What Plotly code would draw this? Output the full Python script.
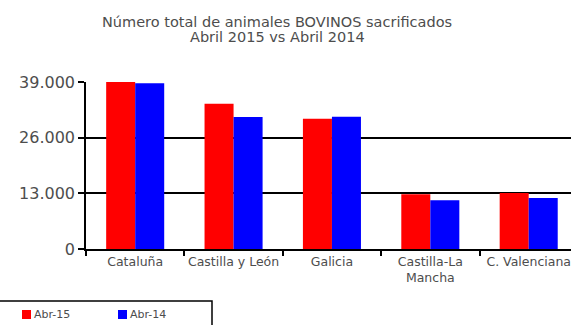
import plotly.graph_objects as go

# Comunidades autónomas y animales bovinos sacrificados
comunidades = ["Cataluña", "Castilla y León", "Galicia", "Castilla-La<br>Mancha", "C. Valenciana"]
abr_15 = [39300, 33900, 30400, 12800, 13100]
abr_14 = [38700, 30800, 30900, 11400, 11900]
series_names = ["Abr-15", "Abr-14"]
series_colors = ["#FF0000", "#0000FF"]
y_ticks = [0, 13000, 26000, 39000]
y_tick_text = ["0", "13.000", "26.000", "39.000"]
title_lines = ["Número total de animales BOVINOS sacrificados", "Abril 2015 vs Abril 2014"]

text_color = "#4d4d4d"
font_family = "DejaVu Sans"

fig = go.Figure()
for name, values, color in zip(series_names, [abr_15, abr_14], series_colors):
    fig.add_trace(go.Bar(
        x=comunidades, y=values, name=name,
        marker=dict(color=color, line=dict(width=0)),
    ))

fig.update_layout(
    width=571, height=325,
    margin=dict(l=86, r=0, t=82, b=76, autoexpand=False),
    paper_bgcolor="white", plot_bgcolor="white",
    barmode="group", bargap=0.41, bargroupgap=0,
    showlegend=False,
    font=dict(family=font_family, color=text_color),
)

# Título en dos líneas, centrado sobre el gráfico
for line, ypx in zip(title_lines, [22, 37.5]):
    fig.add_annotation(xref="paper", yref="paper",
                       x=(277 - 86) / 485, y=(249 - ypx) / 167,
                       xanchor="center", yanchor="middle", showarrow=False,
                       text=line, font=dict(size=14.5, color=text_color))

fig.update_xaxes(
    range=[-0.5, 4.43],
    automargin=False, tickangle=0,
    showline=True, linecolor="black", linewidth=1.5,
    ticks="outside", tickson="boundaries", ticklen=5, tickcolor="black", tickwidth=1.5,
    tickfont=dict(size=12.5, color=text_color),
    showgrid=False,
)
fig.update_yaxes(
    range=[0, 39000],
    automargin=False,
    tickvals=y_ticks, ticktext=y_tick_text,
    showline=True, linecolor="black", linewidth=1.5,
    ticks="outside", ticklen=6, tickcolor="black", tickwidth=1.5,
    tickfont=dict(size=16, color=text_color),
    showgrid=True, gridcolor="black", gridwidth=1.5,
    zeroline=False,
)

# Leyenda dibujada en la parte inferior izquierda
fig.add_shape(type="rect", xref="paper", yref="paper",
              x0=(-10 - 86) / 485, x1=(212 - 86) / 485,
              y0=(249 - 335) / 167, y1=(249 - 301) / 167,
              line=dict(color="black", width=1.5), fillcolor="white")
legend_x = [22, 118]
for px, name, color in zip(legend_x, series_names, series_colors):
    fig.add_shape(type="rect", xref="paper", yref="paper",
                  x0=(px - 86) / 485, x1=(px + 9 - 86) / 485,
                  y0=(249 - 319) / 167, y1=(249 - 310) / 167,
                  line=dict(width=0), fillcolor=color)
    fig.add_annotation(xref="paper", yref="paper",
                       x=(px + 10 - 86) / 485, y=(249 - 314.5) / 167,
                       xanchor="left", yanchor="middle", showarrow=False,
                       text=name, font=dict(size=11, color=text_color))

fig.write_html("out.html")
